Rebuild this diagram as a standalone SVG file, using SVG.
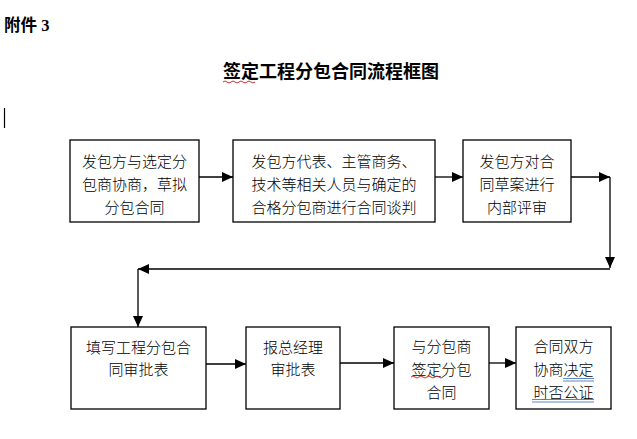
<svg xmlns="http://www.w3.org/2000/svg" width="637" height="439" viewBox="0 0 637 439">
<style>
.box{fill:#fff;stroke:#000;stroke-width:1.3}
.t{font-family:"Noto Sans CJK SC","Noto Sans",sans-serif;font-size:15px;font-weight:300;fill:#000;text-anchor:middle;dominant-baseline:central}
.hd{font-family:"Liberation Serif","Noto Sans CJK SC",serif;font-weight:bold;fill:#000}
.c{fill:none;stroke:#000;stroke-width:1.3}
.wave{fill:none;stroke:#d03030;stroke-width:1}
.dbl{fill:none;stroke:#4a7ab8;stroke-width:0.9}
</style>
<defs>
<marker id="ah" markerUnits="userSpaceOnUse" markerWidth="12" markerHeight="10" refX="11" refY="5" orient="auto">
<path d="M0,0 L11,5 L0,10 Z" fill="#000"/>
</marker>
</defs>
<rect width="637" height="439" fill="#fff"/>
<text class="hd" x="4" y="31" font-size="16.5">附件 3</text>
<text class="hd" x="331" y="78" font-size="18" text-anchor="middle">签定工程分包合同流程框图</text>
<path class="wave" d="M223,82 q2,-2 4,0 t4,0 t4,0 t4,0 t4,0 t4,0 t4,0 t4,0"/>
<line x1="4.5" y1="108" x2="4.5" y2="128" stroke="#000" stroke-width="1.2"/>

<g id="n1"><rect class="box" x="70" y="140" width="129" height="82"/>
<text class="t" x="134.5" y="160">发包方与选定分</text><text class="t" x="134.5" y="183">包商协商，草拟</text><text class="t" x="134.5" y="206">分包合同</text></g>
<g id="n2"><rect class="box" x="233" y="140" width="202" height="82"/>
<text class="t" x="334" y="160">发包方代表、主管商务、</text><text class="t" x="334" y="183">技术等相关人员与确定的</text><text class="t" x="334" y="206">合格分包商进行合同谈判</text></g>
<g id="n3"><rect class="box" x="463" y="140" width="108" height="82"/>
<text class="t" x="517" y="160">发包方对合</text><text class="t" x="517" y="183">同草案进行</text><text class="t" x="517" y="206">内部评审</text></g>
<g id="n4"><rect class="box" x="71" y="327" width="135" height="82"/>
<text class="t" x="138.5" y="346">填写工程分包合</text><text class="t" x="138.5" y="368">同审批表</text></g>
<g id="n5"><rect class="box" x="246" y="327" width="94" height="82"/>
<text class="t" x="293" y="346">报总经理</text><text class="t" x="293" y="368">审批表</text></g>
<g id="n6"><rect class="box" x="394" y="327" width="95" height="82"/>
<text class="t" x="441.5" y="345">与分包商</text><text class="t" x="441.5" y="368">签定分包</text><text class="t" x="441.5" y="391">合同</text>
<path class="wave" d="M411,377 q2,-2 4,0 t4,0 t4,0 t4,0 t4,0 t4,0 t4,0 t4,0"/></g>
<g id="n7"><rect class="box" x="516" y="327" width="95" height="82"/>
<text class="t" x="563.5" y="345">合同双方</text><text class="t" x="563.5" y="368">协商决定</text><text class="t" x="563.5" y="391">时否公证</text>
<path class="dbl" d="M563,378.5 H594 M563,381 H594 M532,399.5 H594 M532,402 H594"/></g>

<g id="connectors">
<line class="c" x1="199" y1="177" x2="233" y2="177" marker-end="url(#ah)"/>
<line class="c" x1="435" y1="177" x2="463" y2="177" marker-end="url(#ah)"/>
<line class="c" x1="571" y1="177" x2="610" y2="177" marker-end="url(#ah)"/>
<line class="c" x1="610" y1="177" x2="610" y2="268" marker-end="url(#ah)"/>
<line class="c" x1="610" y1="269" x2="138" y2="269" marker-end="url(#ah)"/>
<line class="c" x1="138" y1="269" x2="138" y2="327" marker-end="url(#ah)"/>
<line class="c" x1="206" y1="364" x2="246" y2="364" marker-end="url(#ah)"/>
<line class="c" x1="340" y1="363" x2="394" y2="363" marker-end="url(#ah)"/>
<line class="c" x1="489" y1="363" x2="516" y2="363" marker-end="url(#ah)"/>
</g>
</svg>
